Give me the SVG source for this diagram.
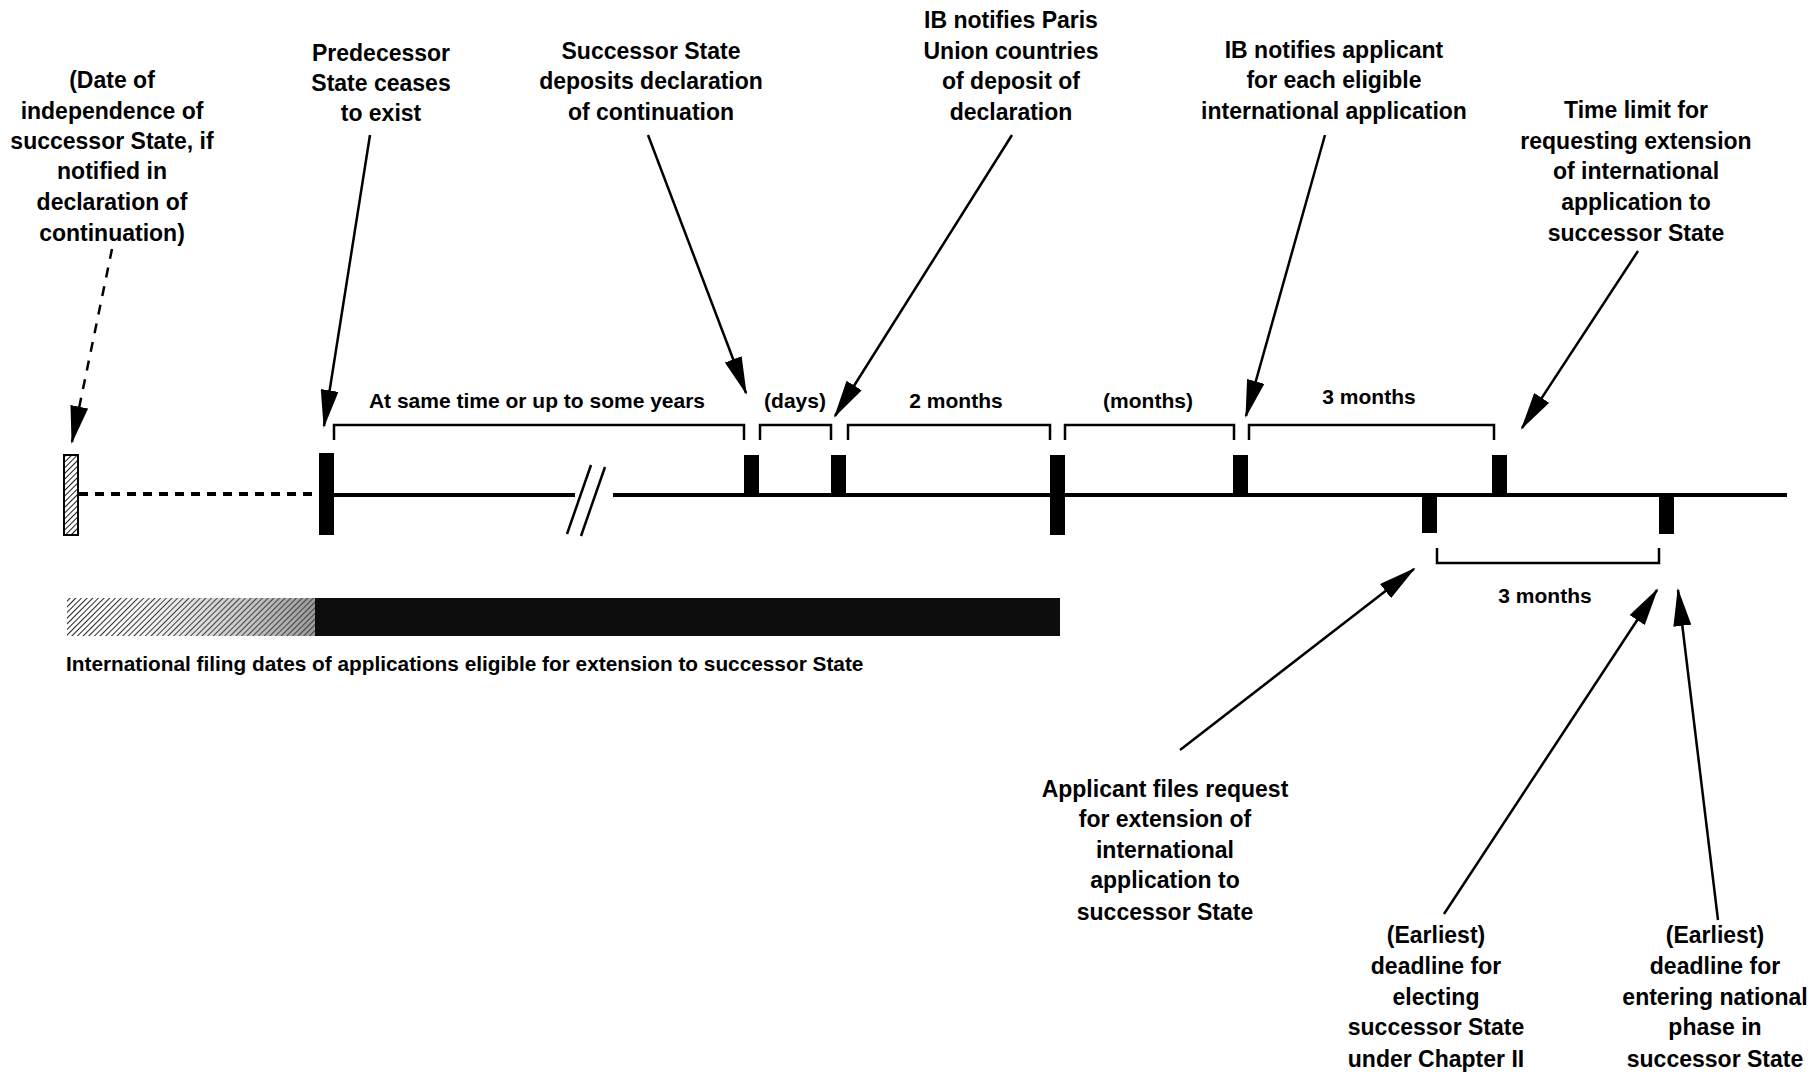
<svg xmlns="http://www.w3.org/2000/svg" width="1814" height="1074" viewBox="0 0 1814 1074">
<style>
text{font-family:"Liberation Sans",Arial,sans-serif;font-weight:bold;fill:#000;}
.lbl{font-size:23px;text-anchor:middle;}
.blbl{font-size:21px;text-anchor:middle;}
.cap{font-size:20.8px;}
.arr{stroke:#000;stroke-width:2.5;fill:none;marker-end:url(#ah);}
.dash{stroke:#000;stroke-width:2.5;fill:none;stroke-dasharray:10 9;marker-end:url(#ah);}
.br{stroke:#000;stroke-width:2.5;fill:none;}
.bar{fill:#000;}
.tl{stroke:#000;stroke-width:4;fill:none;}
</style>
<defs>
<marker id="ah" markerUnits="userSpaceOnUse" markerWidth="38" markerHeight="18" refX="36" refY="9" orient="auto">
<path d="M0,0 L38,9 L0,18 Z" fill="#000"/>
</marker>
<pattern id="hatch" patternUnits="userSpaceOnUse" width="4" height="4" patternTransform="rotate(45)">
<rect width="4" height="4" fill="#fff"/>
<line x1="0" y1="0" x2="0" y2="4" stroke="#000" stroke-width="1.8"/>
</pattern>
<linearGradient id="fade" x1="0" y1="0" x2="1" y2="0">
<stop offset="0" stop-color="#fff" stop-opacity="0"/>
<stop offset="0.6" stop-color="#888" stop-opacity="0.35"/>
<stop offset="1" stop-color="#555" stop-opacity="0.6"/>
</linearGradient>
</defs>
<rect width="1814" height="1074" fill="#fff"/>

<g id="timeline">
<line class="tl" x1="79" y1="494" x2="319" y2="494" stroke-dasharray="9 7" stroke-width="2.5"/>
<line class="tl" x1="334" y1="495" x2="575" y2="495"/>
<line class="tl" x1="613" y1="495" x2="1787" y2="495"/>
<line x1="567" y1="534" x2="591" y2="465" stroke="#000" stroke-width="2.5"/>
<line x1="581" y1="536" x2="605" y2="467" stroke="#000" stroke-width="2.5"/>
</g>

<g id="node-independence">
<rect x="64" y="455" width="14" height="80" fill="url(#hatch)" stroke="#000" stroke-width="2"/>
<text class="lbl" x="112" y="88">(Date of</text>
<text class="lbl" x="112" y="119">independence of</text>
<text class="lbl" x="112" y="149">successor State, if</text>
<text class="lbl" x="112" y="179">notified in</text>
<text class="lbl" x="112" y="210">declaration of</text>
<text class="lbl" x="112" y="241">continuation)</text>
</g>

<g id="node-predecessor">
<rect class="bar" x="319" y="453" width="15" height="82"/>
<text class="lbl" x="381" y="61">Predecessor</text>
<text class="lbl" x="381" y="91">State ceases</text>
<text class="lbl" x="381" y="121">to exist</text>
</g>

<g id="node-deposit">
<rect class="bar" x="744" y="455" width="15" height="40"/>
<text class="lbl" x="651" y="59">Successor State</text>
<text class="lbl" x="651" y="89">deposits declaration</text>
<text class="lbl" x="651" y="120">of continuation</text>
</g>

<g id="node-paris">
<rect class="bar" x="831" y="455" width="15" height="40"/>
<text class="lbl" x="1011" y="28">IB notifies Paris</text>
<text class="lbl" x="1011" y="59">Union countries</text>
<text class="lbl" x="1011" y="89">of deposit of</text>
<text class="lbl" x="1011" y="120">declaration</text>
</g>

<g id="node-filing-end">
<rect class="bar" x="1050" y="455" width="15" height="80"/>
</g>

<g id="node-applicant">
<rect class="bar" x="1233" y="455" width="15" height="40"/>
<text class="lbl" x="1334" y="58">IB notifies applicant</text>
<text class="lbl" x="1334" y="88">for each eligible</text>
<text class="lbl" x="1334" y="119">international application</text>
</g>

<g id="node-timelimit">
<rect class="bar" x="1492" y="455" width="15" height="40"/>
<text class="lbl" x="1636" y="118">Time limit for</text>
<text class="lbl" x="1636" y="149">requesting extension</text>
<text class="lbl" x="1636" y="179">of international</text>
<text class="lbl" x="1636" y="210">application to</text>
<text class="lbl" x="1636" y="241">successor State</text>
</g>

<g id="node-request">
<rect class="bar" x="1422" y="495" width="15" height="38"/>
<text class="lbl" x="1165" y="797">Applicant files request</text>
<text class="lbl" x="1165" y="827">for extension of</text>
<text class="lbl" x="1165" y="858">international</text>
<text class="lbl" x="1165" y="888">application to</text>
<text class="lbl" x="1165" y="920">successor State</text>
</g>

<g id="node-chapter2">
<text class="lbl" x="1436" y="943">(Earliest)</text>
<text class="lbl" x="1436" y="974">deadline for</text>
<text class="lbl" x="1436" y="1005">electing</text>
<text class="lbl" x="1436" y="1035">successor State</text>
<text class="lbl" x="1436" y="1067">under Chapter II</text>
</g>

<g id="node-national">
<rect class="bar" x="1659" y="495" width="15" height="39"/>
<text class="lbl" x="1715" y="943">(Earliest)</text>
<text class="lbl" x="1715" y="974">deadline for</text>
<text class="lbl" x="1715" y="1005">entering national</text>
<text class="lbl" x="1715" y="1035">phase in</text>
<text class="lbl" x="1715" y="1067">successor State</text>
</g>

<g id="brackets">
<path class="br" d="M334,440 V425 H744 V440"/>
<text class="blbl" x="537" y="408">At same time or up to some years</text>
<path class="br" d="M760,440 V425 H831 V440"/>
<text class="blbl" x="795" y="408">(days)</text>
<path class="br" d="M848,440 V425 H1050 V440"/>
<text class="blbl" x="956" y="408">2 months</text>
<path class="br" d="M1065,440 V425 H1234 V440"/>
<text class="blbl" x="1148" y="408">(months)</text>
<path class="br" d="M1249,440 V425 H1494 V440"/>
<text class="blbl" x="1369" y="404">3 months</text>
<path class="br" d="M1437,548 V563 H1659 V548"/>
<text class="blbl" x="1545" y="603">3 months</text>
</g>

<g id="node-filing-bar">
<rect x="67" y="598" width="248" height="38" fill="url(#hatch)"/>
<rect x="67" y="598" width="248" height="38" fill="url(#fade)"/>
<rect x="315" y="598" width="745" height="38" fill="#0d0d0d"/>
<text class="cap" x="66" y="671">International filing dates of applications eligible for extension to successor State</text>
</g>

<g id="connectors">
<line class="dash" x1="112" y1="249" x2="72" y2="442"/>
<line class="arr" x1="370" y1="135" x2="324" y2="426"/>
<line class="arr" x1="648" y1="135" x2="746" y2="393"/>
<line class="arr" x1="1012" y1="135" x2="835" y2="416"/>
<line class="arr" x1="1325" y1="135" x2="1246" y2="416"/>
<line class="arr" x1="1638" y1="251" x2="1522" y2="428"/>
<line class="arr" x1="1180" y1="750" x2="1414" y2="569"/>
<line class="arr" x1="1444" y1="914" x2="1657" y2="590"/>
<line class="arr" x1="1718" y1="920" x2="1678" y2="590"/>
</g>
</svg>
